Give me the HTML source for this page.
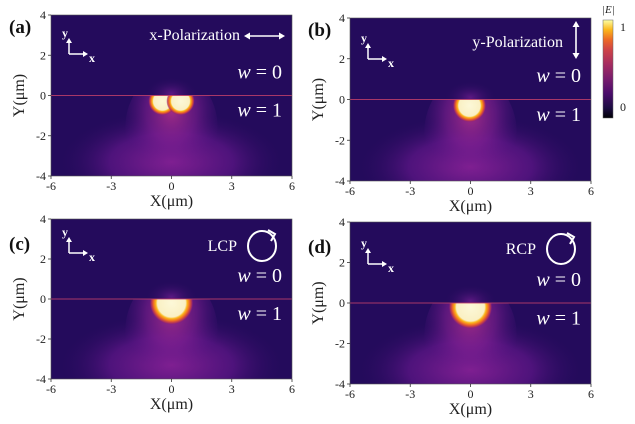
<!DOCTYPE html>
<html><head><meta charset="utf-8">
<style>
html,body{margin:0;padding:0;background:#fff;}
svg{display:block;font-family:"Liberation Serif",serif;}
</style></head>
<body>
<svg id="fig" width="635" height="424" viewBox="0 0 635 424" xmlns="http://www.w3.org/2000/svg">
<defs>
  <radialGradient id="glow" cx="0.5" cy="0.5" r="0.5">
    <stop offset="0" stop-color="#8e2398" stop-opacity="0.9"/>
    <stop offset="0.55" stop-color="#6a1890" stop-opacity="0.6"/>
    <stop offset="1" stop-color="#2a0a5e" stop-opacity="0"/>
  </radialGradient>
  <radialGradient id="band" cx="0.5" cy="0.35" r="0.55">
    <stop offset="0" stop-color="#b0308a" stop-opacity="0.9"/>
    <stop offset="0.5" stop-color="#8a2296" stop-opacity="0.55"/>
    <stop offset="1" stop-color="#5a1488" stop-opacity="0"/>
  </radialGradient>
  <radialGradient id="hot" cx="0.5" cy="0.5" r="0.5">
    <stop offset="0" stop-color="#fcf8d8"/>
    <stop offset="0.64" stop-color="#faf0c4"/>
    <stop offset="0.72" stop-color="#fbb61a"/>
    <stop offset="0.83" stop-color="#ec6526"/>
    <stop offset="0.93" stop-color="#b0305a" stop-opacity="0.8"/>
    <stop offset="1" stop-color="#6a1890" stop-opacity="0"/>
  </radialGradient>
  <radialGradient id="halo" cx="0.5" cy="0.5" r="0.5">
    <stop offset="0" stop-color="#6a1c8c" stop-opacity="0.8"/>
    <stop offset="1" stop-color="#2a0a5e" stop-opacity="0"/>
  </radialGradient>
  <linearGradient id="cbar" x1="0" y1="1" x2="0" y2="0">
    <stop offset="0" stop-color="#000004"/>
    <stop offset="0.1" stop-color="#1b0c41"/>
    <stop offset="0.25" stop-color="#4a0c6b"/>
    <stop offset="0.4" stop-color="#781c6d"/>
    <stop offset="0.55" stop-color="#a52c60"/>
    <stop offset="0.7" stop-color="#cf4446"/>
    <stop offset="0.8" stop-color="#ed6925"/>
    <stop offset="0.9" stop-color="#fbb61a"/>
    <stop offset="1" stop-color="#fcffa4"/>
  </linearGradient>
</defs>
</svg>
<script>
const xTicks=[-6,-3,0,3,6];
const yTicks=[4,2,0,-2,-4];
const panelLabels=["(a)","(b)","(c)","(d)"];
const polLabels=["x-Polarization","y-Polarization","LCP","RCP"];
const panelBoxes=[[51,15,292,176],[350,18,591,181],[51,219,292,379],[350,222,591,384]];
// hotspots per panel: x, y, radius (µm)
const hotX=[[-0.45,0.45],[-0.05],[0],[0]];
const hotY=[[-0.28],[-0.3],[-0.2],[-0.2]];
const hotR=[[0.55,0.55],[0.65],[0.85],[0.85]];

const NS="http://www.w3.org/2000/svg";
const svg=document.getElementById('fig');
const defs=svg.querySelector('defs');
function mk(tag,attrs,parent){const e=document.createElementNS(NS,tag);for(const k in attrs)e.setAttribute(k,attrs[k]);(parent||svg).appendChild(e);return e;}
function txt(s,attrs,parent){const e=mk('text',attrs,parent);e.textContent=s;return e;}

panelBoxes.forEach((b,i)=>{
  const [x0,y0,x1,y1]=b;
  const sx=v=>x0+(v+6)/12*(x1-x0);
  const sy=v=>y0+(4-v)/8*(y1-y0);
  const sr=v=>v/12*(x1-x0);
  const cpAll=mk('clipPath',{id:'ca'+i},defs);
  mk('rect',{x:x0,y:y0,width:x1-x0,height:y1-y0},cpAll);
  const cpLow=mk('clipPath',{id:'cl'+i},defs);
  mk('rect',{x:x0,y:sy(0),width:x1-x0,height:y1-sy(0)},cpLow);
  const g=mk('g',{});
  
  
  const pg=mk('g',{'clip-path':'url(#ca'+i+')'},g);
  
  
  mk('rect',{x:x0,y:y0,width:x1-x0,height:y1-y0,fill:'#240b5c'},pg);
  mk('ellipse',{cx:sx(0),cy:sy(0.1),rx:sr(1.3),ry:sr(0.8),fill:'url(#halo)'},pg);
  const low=mk('g',{'clip-path':'url(#cl'+i+')'},pg);
  mk('ellipse',{cx:sx(0),cy:sy(-3.3),rx:sr(5.6),ry:sr(2.6),fill:'url(#glow)'},low);
  mk('ellipse',{cx:sx(0),cy:sy(-1.6),rx:sr(2.3),ry:sr(2.8),fill:'url(#band)'},low);
  const ln=mk('line',{x1:x0,y1:sy(0),x2:x1,y2:sy(0),stroke:'#c0406a','stroke-width':1,'stroke-opacity':0.85},pg);
  
  
  hotX[i].forEach((hx,j)=>{
    const r=sr(hotR[i][j])/0.78;
    const hy=hotY[i][j]!==undefined?hotY[i][j]:hotY[i][0];
    const c=mk('ellipse',{cx:sx(hx),cy:sy(hy),rx:r,ry:r,fill:'url(#hot)'},low);
    
    
  });
  mk('rect',{x:x0,y:y0,width:x1-x0,height:y1-y0,fill:'none',stroke:'#555','stroke-width':0.6},g);
  xTicks.forEach(t=>{
    mk('line',{x1:sx(t),y1:y1,x2:sx(t),y2:y1+3,stroke:'#333','stroke-width':0.8},g);
    const l=txt(String(t),{x:sx(t),y:y1+14,'font-size':12,'text-anchor':'middle',fill:'#222'},g);
    
    
  });
  yTicks.forEach(t=>{
    mk('line',{x1:x0-3,y1:sy(t),x2:x0,y2:sy(t),stroke:'#333','stroke-width':0.8},g);
    const l=txt(String(t),{x:x0-5,y:sy(t)+4,'font-size':12,'text-anchor':'end',fill:'#222'},g);
    
    
  });
  const xt=txt('X(μm)',{x:(x0+x1)/2,y:y1+30,'font-size':16,'text-anchor':'middle',fill:'#222'},g);
  
  
  const yt=txt('Y(μm)',{x:0,y:0,'font-size':16,'text-anchor':'middle',fill:'#222',transform:'translate('+(x0-27)+','+sy(0)+') rotate(-90)'},g);
  
  
  const pl=txt(panelLabels[i],{x:x0-42,y:y0+18+(i>=2?13:0),'font-size':19,'font-weight':'bold',fill:'#111'},g);
  
  
  const ax=mk('g',{stroke:'#fff','stroke-width':1.5,fill:'#fff'},g);
  
  
  const ox=x0+18, oy=y0+(i>=2?34:41)-(i==0?2:0)+(i==3?8:0);
  mk('line',{x1:ox,y1:oy,x2:ox,y2:oy-12},ax);
  mk('path',{d:`M${ox-3},${oy-11} L${ox},${oy-16} L${ox+3},${oy-11}Z`,stroke:'none'},ax);
  mk('line',{x1:ox,y1:oy,x2:ox+15,y2:oy},ax);
  mk('path',{d:`M${ox+14},${oy-3} L${ox+19},${oy} L${ox+14},${oy+3}Z`,stroke:'none'},ax);
  txt('y',{x:ox-7,y:oy-17,'font-size':12,'font-weight':'bold',fill:'#fff',stroke:'none'},ax);
  txt('x',{x:ox+20,y:oy+8,'font-size':12,'font-weight':'bold',fill:'#fff',stroke:'none'},ax);
  const w0=txt('',{x:x1-10,y:sy(0.85),'font-size':20,'text-anchor':'end',fill:'#fff'},g);
  w0.innerHTML='<tspan font-style="italic">w</tspan> = 0';
  
  
  const w1=txt('',{x:x1-10,y:sy(-1.05),'font-size':20,'text-anchor':'end',fill:'#fff'},g);
  w1.innerHTML='<tspan font-style="italic">w</tspan> = 1';
  
  
  let pol;
  if(i==0){
    pol=txt(polLabels[i],{x:x1-52,y:y0+25,'font-size':16,'text-anchor':'end',fill:'#fff'},g);
    const ic=mk('g',{stroke:'#fff','stroke-width':1.6,fill:'#fff'},g);
    
    
    const cy=y0+21;
    mk('line',{x1:x1-45,y1:cy,x2:x1-10,y2:cy},ic);
    mk('path',{d:`M${x1-42},${cy-3.5} L${x1-48},${cy} L${x1-42},${cy+3.5}Z`,stroke:'none'},ic);
    mk('path',{d:`M${x1-13},${cy-3.5} L${x1-7},${cy} L${x1-13},${cy+3.5}Z`,stroke:'none'},ic);
  } else if(i==1){
    pol=txt(polLabels[i],{x:x1-28,y:y0+29,'font-size':16,'text-anchor':'end',fill:'#fff'},g);
    const ic=mk('g',{stroke:'#fff','stroke-width':1.6,fill:'#fff'},g);
    
    
    const cx=x1-15;
    mk('line',{x1:cx,y1:y0+8,x2:cx,y2:y0+36},ic);
    mk('path',{d:`M${cx-3.5},${y0+9} L${cx},${y0+3} L${cx+3.5},${y0+9}Z`,stroke:'none'},ic);
    mk('path',{d:`M${cx-3.5},${y0+35} L${cx},${y0+41} L${cx+3.5},${y0+35}Z`,stroke:'none'},ic);
  } else {
    pol=txt(polLabels[i],{x:x1-55,y:y0+32,'font-size':16,'text-anchor':'end',fill:'#fff'},g);
    const ic=mk('g',{stroke:'#fff','stroke-width':2,fill:'none'},g);
    
    
    const cx=x1-30, cy=y0+27;
    mk('ellipse',{cx:cx,cy:cy,rx:14,ry:15},ic);
    mk('path',{d:`M${cx+6},${cy-16} L${cx+13},${cy-12} L${cx+9},${cy-5}`},ic);
  }
  
  
});
const cb=mk('g',{});


mk('rect',{x:603,y:20,width:10,height:98,fill:'url(#cbar)',stroke:'#666','stroke-width':0.5},cb);
txt('|E|',{x:602,y:13,'font-size':11,fill:'#222','font-style':'italic'},cb);
txt('1',{x:620,y:31,'font-size':12,fill:'#222'},cb);
txt('0',{x:620,y:111,'font-size':12,fill:'#222'},cb);
</script>
</body></html>
